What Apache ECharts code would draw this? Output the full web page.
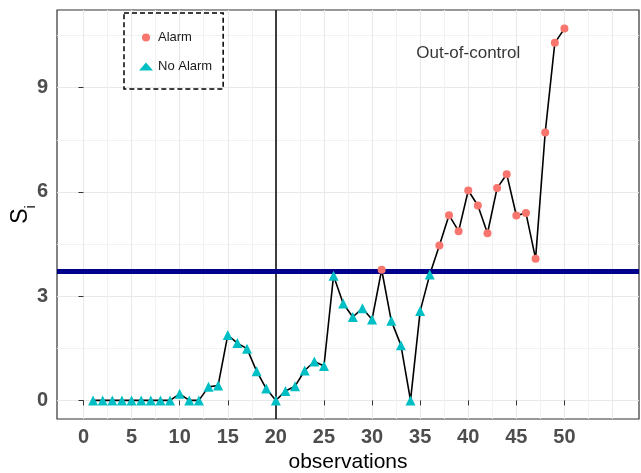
<!DOCTYPE html>
<html>
<head>
<meta charset="utf-8">
<script src="https://cdn.jsdelivr.net/npm/echarts@6/dist/echarts.min.js"></script>
<style>
html, body { margin: 0; padding: 0; background: #fff; }
#chart { width: 641px; height: 473px; }
</style>
</head>
<body>
<div id="chart"></div>
<script>
// observations 1..50 and the statistic S_i
var observations = [1, 2, 3, 4, 5, 6, 7, 8, 9, 10, 11, 12, 13, 14, 15, 16, 17, 18, 19, 20,
  21, 22, 23, 24, 25, 26, 27, 28, 29, 30, 31, 32, 33, 34, 35, 36, 37, 38, 39, 40,
  41, 42, 43, 44, 45, 46, 47, 48, 49, 50]
var si = [0, 0, 0, 0, 0, 0, 0, 0, 0, 0.19,
  0, 0, 0.39, 0.43, 1.88, 1.65, 1.49, 0.84, 0.34, 0,
  0.27, 0.41, 0.86, 1.12, 0.99, 3.59, 2.79, 2.40, 2.65, 2.33,
  3.76, 2.29, 1.59, 0, 2.57, 3.62, 4.46, 5.33, 4.87, 6.04,
  5.61, 4.81, 6.11, 6.51, 5.32, 5.39, 4.08, 7.71, 10.29, 10.70]
var controlLimit = 3.72
var changePoint = 20
var annotation = [40, 10]

var xTicks = [0, 5, 10, 15, 20, 25, 30, 35, 40, 45, 50]
var xMajorGrid = [0, 5, 10, 15, 20, 25, 30, 35, 40, 45, 50, 55]
var xMinorGrid = [2.5, 7.5, 12.5, 17.5, 22.5, 27.5, 32.5, 37.5, 42.5, 47.5, 52.5]
var yTicks = [0, 3, 6, 9]
var yMinorGrid = [1.5, 4.5, 7.5, 10.5]

var xRange = [-2.75, 57.75]
var yRange = [-0.535, 11.235]

var alarm = []
var noAlarm = []
var path = []
observations.forEach(function (o, i) {
  path.push([o, si[i]])
  if (si[i] > controlLimit) alarm.push([o, si[i]])
  else noAlarm.push([o, si[i]])
})

var tickFont = {
  fontFamily: 'Liberation Sans',
  fontWeight: 'bold',
  fontSize: 20,
  color: '#4d4d4d'
}

function gridAxis (vals, color, width) {
  return {
    type: 'value',
    min: xRange[0],
    max: xRange[1],
    axisLine: { show: false },
    axisTick: { show: false, customValues: vals },
    axisLabel: { show: false, customValues: vals },
    splitLine: { show: true, lineStyle: { color: color, width: width } }
  }
}
function gridAxisY (vals, color, width) {
  var a = gridAxis(vals, color, width)
  a.min = yRange[0]
  a.max = yRange[1]
  return a
}

var chart = echarts.init(document.getElementById('chart'))
chart.setOption({
  animation: false,
  grid: {
    left: 57,
    right: 2,
    top: 10,
    bottom: 54,
    outerBoundsMode: 'none',
    containLabel: false,
    show: true,
    borderColor: '#333',
    borderWidth: 1.2,
    backgroundColor: 'transparent'
  },
  legend: {
    data: ['Alarm', 'No Alarm'],
    orient: 'vertical',
    left: 124,
    top: 13,
    padding: [18, 11, 16, 15],
    itemWidth: 14,
    itemHeight: 8,
    itemGap: 16,
    borderColor: '#000',
    borderWidth: 1.5,
    borderType: [5, 3],
    textStyle: { fontFamily: 'Liberation Sans', fontSize: 13, color: '#1a1a1a' }
  },
  xAxis: [
    {
      type: 'value',
      min: xRange[0],
      max: xRange[1],
      name: 'observations',
      nameLocation: 'middle',
      nameGap: 30,
      nameTextStyle: { fontFamily: 'Liberation Sans', fontSize: 21, color: '#000' },
      axisLine: { show: false },
      axisTick: { show: true, length: 5, customValues: xTicks, lineStyle: { color: '#333' } },
      axisLabel: Object.assign({ customValues: xTicks, margin: 8 }, tickFont),
      splitLine: { show: false }
    },
    gridAxis(xMajorGrid, '#e8e8e8', 1),
    gridAxis(xMinorGrid, '#f2f2f2', 1)
  ],
  yAxis: [
    {
      type: 'value',
      min: yRange[0],
      max: yRange[1],
      name: '{s|S}{i|i}',
      nameLocation: 'middle',
      nameRotate: 90,
      nameGap: 23,
      nameMoveOverlap: false,
      nameTextStyle: {
        rich: {
          s: { fontFamily: 'Liberation Sans', fontSize: 23, color: '#000', lineHeight: 26 },
          i: { fontFamily: 'Liberation Sans', fontSize: 14, color: '#000', verticalAlign: 'bottom', lineHeight: 14, padding: [0, 0, -4, 0] }
        }
      },
      axisLine: { show: false },
      axisTick: { show: true, length: 5, customValues: yTicks, lineStyle: { color: '#333' } },
      axisLabel: Object.assign({ customValues: yTicks, margin: 9 }, tickFont),
      splitLine: { show: false }
    },
    gridAxisY(yTicks, '#e8e8e8', 1),
    gridAxisY(yMinorGrid, '#f2f2f2', 1)
  ],
  series: [
    {
      name: 'path',
      type: 'line',
      data: path,
      symbol: 'none',
      silent: true,
      z: 3,
      lineStyle: { color: '#000', width: 1.6 },
      markLine: {
        silent: true,
        symbol: 'none',
        label: { show: false },
        data: [
          { xAxis: changePoint, lineStyle: { color: '#000', width: 1.5, type: 'solid' } },
          { yAxis: controlLimit, lineStyle: { color: '#00008b', width: 5, type: 'solid' } }
        ]
      }
    },
    {
      name: 'Alarm',
      type: 'scatter',
      data: alarm,
      symbol: 'circle',
      symbolSize: 8,
      z: 5,
      itemStyle: { color: '#F8766D', opacity: 1 }
    },
    {
      name: 'No Alarm',
      type: 'scatter',
      data: noAlarm,
      symbol: 'triangle',
      symbolSize: 10,
      z: 5,
      itemStyle: { color: '#00BFC4', opacity: 1 }
    },
    {
      name: 'note',
      type: 'scatter',
      data: [annotation],
      symbolSize: 0,
      silent: true,
      label: {
        show: true,
        position: 'inside',
        formatter: 'Out-of-control',
        fontFamily: 'Liberation Sans',
        fontSize: 17,
        color: '#000'
      }
    }
  ]
})
</script>
</body>
</html>
